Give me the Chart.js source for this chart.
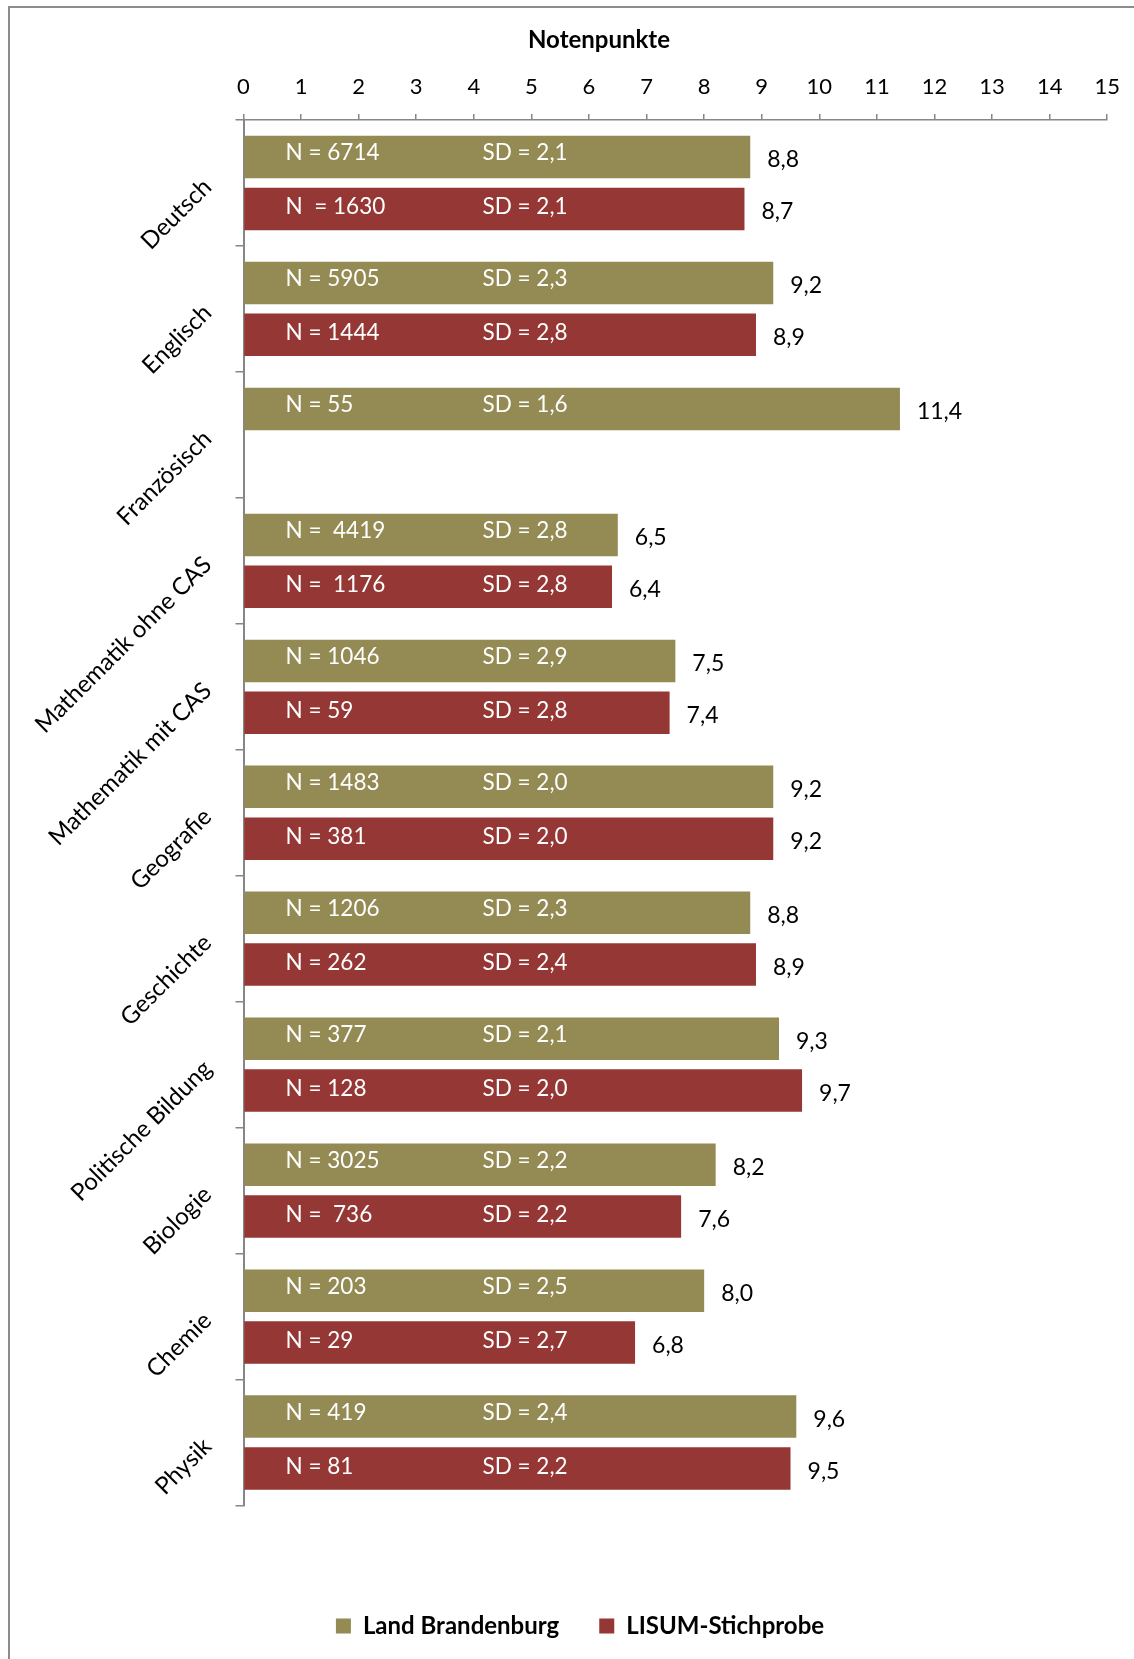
<!DOCTYPE html>
<html>
<head>
<meta charset="utf-8">
<script src="https://cdn.jsdelivr.net/npm/chart.js@4"></script>
<style>
  html, body { margin: 0; padding: 0; background: #fff; }
  #wrap { position: relative; width: 1134px; height: 1659px; overflow: hidden; }
  canvas { position: absolute; left: 0; top: 0; }
</style>
</head>
<body>
<div id="wrap"><canvas id="c" width="1134" height="1659"></canvas></div>
<script>
// ---- data ----
const categories = ['Deutsch', 'Englisch', 'Französisch', 'Mathematik ohne CAS', 'Mathematik mit CAS',
  'Geografie', 'Geschichte', 'Politische Bildung', 'Biologie', 'Chemie', 'Physik'];
const seriesNames = ['Land Brandenburg', 'LISUM-Stichprobe'];
const landValues  = [8.8, 9.2, 11.4, 6.5, 7.5, 9.2, 8.8, 9.3, 8.2, 8.0, 9.6];
const lisumValues = [8.7, 8.9, null, 6.4, 7.4, 9.2, 8.9, 9.7, 7.6, 6.8, 9.5];
const landN   = ['N = 6714', 'N = 5905', 'N = 55', 'N =  4419', 'N = 1046', 'N = 1483', 'N = 1206', 'N = 377', 'N = 3025', 'N = 203', 'N = 419'];
const landSD  = ['SD = 2,1', 'SD = 2,3', 'SD = 1,6', 'SD = 2,8', 'SD = 2,9', 'SD = 2,0', 'SD = 2,3', 'SD = 2,1', 'SD = 2,2', 'SD = 2,5', 'SD = 2,4'];
const lisumN  = ['N  = 1630', 'N = 1444', null, 'N =  1176', 'N = 59', 'N = 381', 'N = 262', 'N = 128', 'N =  736', 'N = 29', 'N = 81'];
const lisumSD = ['SD = 2,1', 'SD = 2,8', null, 'SD = 2,8', 'SD = 2,8', 'SD = 2,0', 'SD = 2,4', 'SD = 2,0', 'SD = 2,2', 'SD = 2,7', 'SD = 2,2'];
const axisTitle = 'Notenpunkte';
const axisMin = 0, axisMax = 15, axisStep = 1;

// ---- styles ----
const FONT = 'Lato, "Open Sans", sans-serif';
const COLORS = ['#948A54', '#953735'];
const AXIS_COLOR = '#868686';

const innerLabels = [[landN, landSD], [lisumN, lisumSD]];

const frame = {
  id: 'frame',
  beforeDraw(chart) {
    const ctx = chart.ctx;
    ctx.save();
    ctx.strokeStyle = '#8c8c8c';
    ctx.lineWidth = 2;
    ctx.strokeRect(9, 7, 2000, 2000);
    ctx.restore();
  }
};

// shift the legend slightly right so it sits where the original one does
const legendShift = {
  id: 'legendShift',
  afterLayout(chart) {
    if (chart.legend) {
      chart.legend.left += 17.5;
      chart.legend.right += 17.5;
    }
  }
};

const axisTitlePlugin = {
  id: 'axisTitlePlugin',
  afterDraw(chart) {
    const ctx = chart.ctx;
    ctx.save();
    ctx.font = 'bold 24px ' + FONT;
    ctx.fillStyle = '#000';
    ctx.textAlign = 'center';
    ctx.textBaseline = 'middle';
    ctx.fillText(axisTitle, 599, 40);
    ctx.restore();
  }
};

const barTexts = {
  id: 'barTexts',
  afterDatasetsDraw(chart) {
    const ctx = chart.ctx;
    const xs = chart.scales.x;
    ctx.save();
    ctx.textBaseline = 'middle';
    chart.data.datasets.forEach((ds, di) => {
      const meta = chart.getDatasetMeta(di);
      meta.data.forEach((bar, i) => {
        const v = ds.data[i];
        if (v === null || v === undefined) return;
        const y = bar.y - (di === 0 ? 4 : 2);
        ctx.font = '23px ' + FONT;
        ctx.fillStyle = '#000';
        ctx.textAlign = 'left';
        ctx.fillText(v.toFixed(1).replace('.', ','), bar.x + 17, bar.y + 3);
        ctx.font = '22.5px ' + FONT;
        ctx.fillStyle = '#fff';
        const [nArr, sdArr] = innerLabels[di];
        if (nArr[i]) ctx.fillText(nArr[i], xs.getPixelForValue(0.73), y);
        if (sdArr[i]) ctx.fillText(sdArr[i], xs.getPixelForValue(4.15), y);
      });
    });
    ctx.restore();
  }
};

const chart = new Chart(document.getElementById('c'), {
  type: 'bar',
  data: {
    labels: categories,
    datasets: [
      { label: seriesNames[0], data: landValues, backgroundColor: COLORS[0], borderWidth: 0,
        categoryPercentage: 0.823, barPercentage: 0.82 },
      { label: seriesNames[1], data: lisumValues, backgroundColor: COLORS[1], borderWidth: 0,
        categoryPercentage: 0.823, barPercentage: 0.82 }
    ]
  },
  options: {
    indexAxis: 'y',
    responsive: false,
    animation: false,
    devicePixelRatio: 1,
    layout: { padding: { left: 0, right: 9, top: 0, bottom: 11 } },
    plugins: {
      tooltip: { enabled: false },
      legend: {
        position: 'bottom',
        title: { display: true, text: ' ', font: { size: 10, lineHeight: 1 }, padding: { top: 58.5, bottom: 0 } },
        labels: {
          boxWidth: 15, boxHeight: 15, padding: 40, color: '#000',
          font: { family: FONT, size: 24, weight: 'bold' }
        }
      }
    },
    scales: {
      x: {
        position: 'top',
        min: axisMin, max: axisMax,
        afterFit(scale) { scale.height = 120; },
        ticks: { stepSize: axisStep, color: '#000', padding: 14, font: { family: FONT, size: 22 } },
        grid: { drawOnChartArea: false, drawTicks: true, tickLength: 6, color: AXIS_COLOR, lineWidth: 1.5 },
        border: { display: true, color: AXIS_COLOR, width: 1.5 },
        title: { display: false, text: axisTitle }
      },
      y: {
        afterFit(scale) { scale.width = 243.5; },
        ticks: { color: '#000', minRotation: 45, maxRotation: 45, padding: 28, autoSkip: false,
          font: { family: FONT, size: 24 } },
        grid: { drawOnChartArea: false, drawTicks: true, tickLength: 8, offset: true, color: AXIS_COLOR, lineWidth: 1.5 },
        border: { display: true, color: AXIS_COLOR, width: 2 }
      }
    }
  },
  plugins: [frame, legendShift, barTexts, axisTitlePlugin]
});
</script>
</body>
</html>
